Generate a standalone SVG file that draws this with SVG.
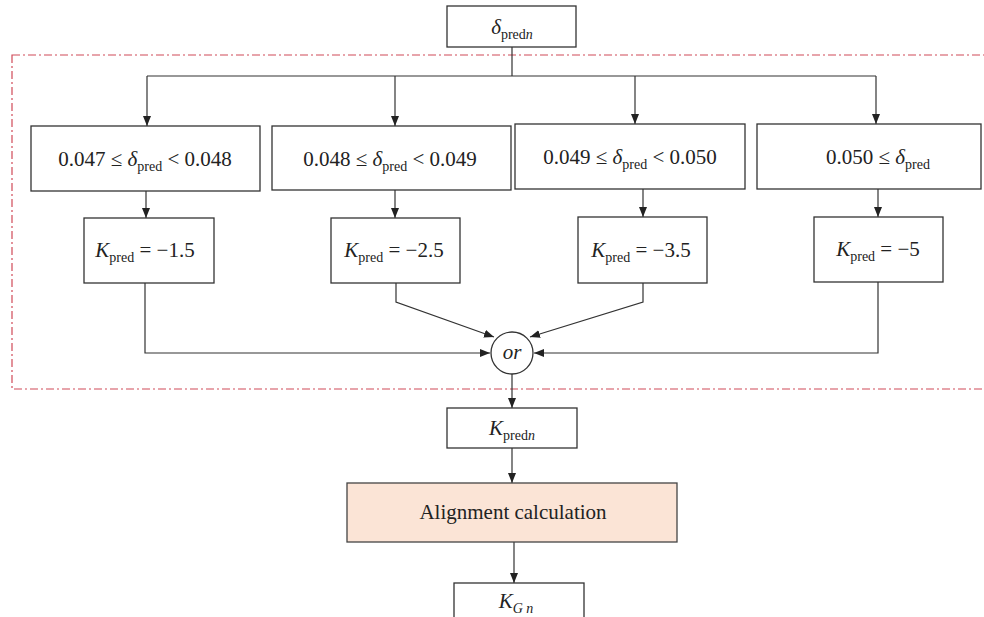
<svg xmlns="http://www.w3.org/2000/svg" width="984" height="617" viewBox="0 0 984 617" font-family="'Liberation Serif', 'Times New Roman', serif">
<style>
.box{fill:#fff;stroke:#333;stroke-width:1.3}
.hl{fill:#fbe4d6;stroke:#444;stroke-width:1.3}
.con{fill:none;stroke:#333;stroke-width:1.2}
text{font-family:'Liberation Serif','Times New Roman',serif;font-size:21px;fill:#222}
.s{font-size:14px}
.i{font-style:italic}
.dash{fill:none;stroke:#d04a58;stroke-width:1.2;stroke-dasharray:8 3 2 3}
</style>
<defs>
<marker id="ah" markerUnits="userSpaceOnUse" markerWidth="11" markerHeight="9" refX="10" refY="4" orient="auto">
<path d="M0,0 L10,4 L0,8 z" fill="#222"/>
</marker>
</defs>
<rect class="dash" x="12" y="55" width="990" height="334"/>
<g id="connectors">
<path class="con" d="M512,47 V76 M147,76 H876"/>
<path class="con" d="M147,76 V126" marker-end="url(#ah)"/>
<path class="con" d="M395,76 V126" marker-end="url(#ah)"/>
<path class="con" d="M635,76 V124" marker-end="url(#ah)"/>
<path class="con" d="M876,76 V124" marker-end="url(#ah)"/>
<path class="con" d="M146,191 V218" marker-end="url(#ah)"/>
<path class="con" d="M395,190 V218" marker-end="url(#ah)"/>
<path class="con" d="M643,189 V217" marker-end="url(#ah)"/>
<path class="con" d="M878,189 V217" marker-end="url(#ah)"/>
<path class="con" d="M145,283 V353 H490" marker-end="url(#ah)"/>
<path class="con" d="M396,283 V302 L494,337" marker-end="url(#ah)"/>
<path class="con" d="M643,283 V302 L530,337" marker-end="url(#ah)"/>
<path class="con" d="M878,282 V353 H534" marker-end="url(#ah)"/>
<path class="con" d="M512,374 V408" marker-end="url(#ah)"/>
<path class="con" d="M512,448 V483" marker-end="url(#ah)"/>
<path class="con" d="M514,542 V583" marker-end="url(#ah)"/>
</g>
<g id="n_top">
<rect class="box" x="447" y="6" width="129" height="41"/>
<text x="512" y="34" text-anchor="middle"><tspan class="i">δ</tspan><tspan class="s" dy="5">pred</tspan><tspan class="s i">n</tspan></text>
</g>
<g id="c1">
<rect class="box" x="31" y="126" width="229" height="65"/>
<text x="145" y="166" text-anchor="middle">0.047 ≤ <tspan class="i">δ</tspan><tspan class="s" dy="5">pred</tspan><tspan dy="-5"> &lt; 0.048</tspan></text>
</g>
<g id="c2">
<rect class="box" x="272" y="126" width="239" height="64"/>
<text x="390" y="166" text-anchor="middle">0.048 ≤ <tspan class="i">δ</tspan><tspan class="s" dy="5">pred</tspan><tspan dy="-5"> &lt; 0.049</tspan></text>
</g>
<g id="c3">
<rect class="box" x="515" y="124" width="230" height="65"/>
<text x="630" y="164" text-anchor="middle">0.049 ≤ <tspan class="i">δ</tspan><tspan class="s" dy="5">pred</tspan><tspan dy="-5"> &lt; 0.050</tspan></text>
</g>
<g id="c4">
<rect class="box" x="757" y="124" width="224" height="65"/>
<text x="878" y="164" text-anchor="middle">0.050 ≤ <tspan class="i">δ</tspan><tspan class="s" dy="5">pred</tspan></text>
</g>
<g id="k1">
<rect class="box" x="84" y="218" width="130" height="65"/>
<text x="145" y="257" text-anchor="middle"><tspan class="i">K</tspan><tspan class="s" dy="5">pred</tspan><tspan dy="-5"> = −1.5</tspan></text>
</g>
<g id="k2">
<rect class="box" x="331" y="218" width="129" height="65"/>
<text x="394" y="257" text-anchor="middle"><tspan class="i">K</tspan><tspan class="s" dy="5">pred</tspan><tspan dy="-5"> = −2.5</tspan></text>
</g>
<g id="k3">
<rect class="box" x="578" y="217" width="129" height="66"/>
<text x="641" y="257" text-anchor="middle"><tspan class="i">K</tspan><tspan class="s" dy="5">pred</tspan><tspan dy="-5"> = −3.5</tspan></text>
</g>
<g id="k4">
<rect class="box" x="814" y="217" width="129" height="65"/>
<text x="878" y="256" text-anchor="middle"><tspan class="i">K</tspan><tspan class="s" dy="5">pred</tspan><tspan dy="-5"> = −5</tspan></text>
</g>
<g id="or">
<circle class="box" cx="512" cy="353" r="21"/>
<text class="i" x="512" y="359" text-anchor="middle">or</text>
</g>
<g id="kpredn">
<rect class="box" x="447" y="408" width="130" height="40"/>
<text x="512" y="435" text-anchor="middle"><tspan class="i">K</tspan><tspan class="s" dy="5">pred</tspan><tspan class="s i">n</tspan></text>
</g>
<g id="align">
<rect class="hl" x="347" y="483" width="330" height="59"/>
<text x="513" y="519" text-anchor="middle">Alignment calculation</text>
</g>
<g id="kgn">
<rect class="box" x="454" y="583" width="130" height="40"/>
<text x="516" y="608" text-anchor="middle"><tspan class="i">K</tspan><tspan class="s i" dy="5">G n</tspan></text>
</g>
</svg>
